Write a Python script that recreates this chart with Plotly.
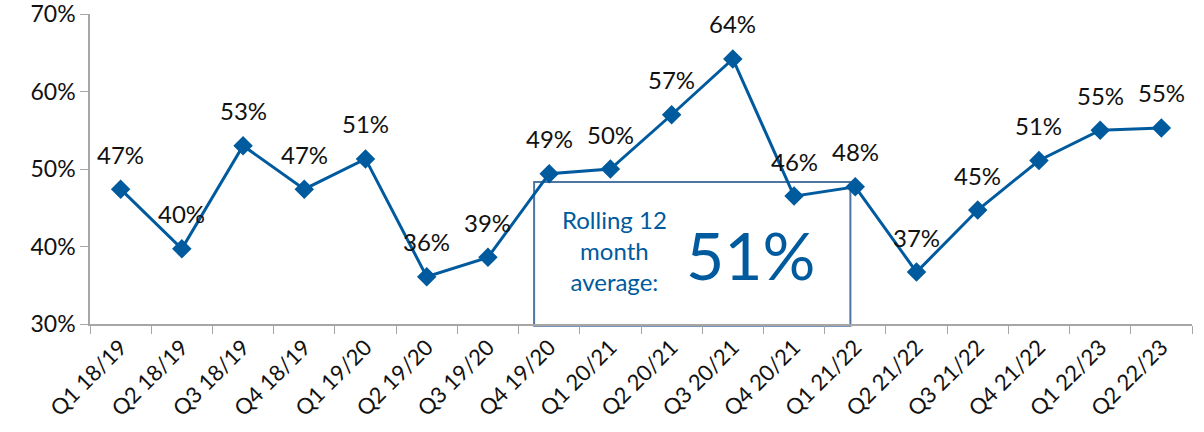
import plotly.graph_objects as go

categories = ["Q1 18/19", "Q2 18/19", "Q3 18/19", "Q4 18/19", "Q1 19/20", "Q2 19/20",
              "Q3 19/20", "Q4 19/20", "Q1 20/21", "Q2 20/21", "Q3 20/21", "Q4 20/21",
              "Q1 21/22", "Q2 21/22", "Q3 21/22", "Q4 21/22", "Q1 22/23", "Q2 22/23"]
values = [0.474, 0.397, 0.530, 0.474, 0.513, 0.361, 0.386, 0.494, 0.500, 0.570,
          0.642, 0.465, 0.477, 0.367, 0.447, 0.511, 0.550, 0.553]
y_ticks = [0.3, 0.4, 0.5, 0.6, 0.7]
rolling_label = "Rolling 12<br>month<br>average:"
rolling_value = "51%"

BLUE = "#005a9e"
FONT = "Lato"

fig = go.Figure()
fig.add_trace(go.Scatter(
    x=categories, y=values, mode="lines+markers",
    line=dict(color=BLUE, width=3),
    marker=dict(symbol="diamond", size=15, color=BLUE),
    cliponaxis=False,
    hoverinfo="skip",
))

for c, v in zip(categories, values):
    fig.add_annotation(x=c, y=v, text=f"{round(v*100):.0f}%", showarrow=False,
                       xanchor="center", yanchor="middle", yshift=35,
                       font=dict(family=FONT, size=24, color="#111111"))

fig.add_shape(type="rect", xref="paper", yref="paper",
              x0=0.403, x1=0.690, y0=-0.006, y1=0.458,
              line=dict(color="#4f75a3", width=2), fillcolor="white", layer="below")
fig.add_annotation(xref="paper", yref="paper", x=0.476, y=0.237, text=rolling_label,
                   showarrow=False, align="center", xanchor="center", yanchor="middle",
                   font=dict(family=FONT, size=24, color=BLUE))
fig.add_annotation(xref="paper", yref="paper", x=0.599, y=0.225, text=rolling_value,
                   showarrow=False, align="center", xanchor="center", yanchor="middle",
                   font=dict(family=FONT, size=66, color=BLUE))

fig.update_layout(
    width=1204, height=432,
    margin=dict(l=90, r=12, t=14, b=108),
    paper_bgcolor="white", plot_bgcolor="white",
    showlegend=False,
    font=dict(family=FONT, size=24, color="#111111"),
)
fig.update_xaxes(
    type="category", range=[-0.5, len(categories) - 0.5], automargin=False,
    showline=True, linecolor="#a6a6a6", linewidth=1.5,
    ticks="outside", tickson="boundaries", ticklen=8, tickcolor="#a6a6a6",
    tickangle=-45, showgrid=False, ticklabeloverflow="allow",
    tickfont=dict(family=FONT, size=22, color="#111111"),
)
fig.update_yaxes(
    range=[0.3, 0.7], tickvals=y_ticks, tickformat=".0%", automargin=False,
    showline=True, linecolor="#a6a6a6", linewidth=1.5,
    ticks="outside", ticklen=8, tickcolor="#a6a6a6",
    showgrid=False, zeroline=False, ticklabeloverflow="allow",
    tickfont=dict(family=FONT, size=23, color="#111111"),
)

fig.write_html("out.html", config={"displayModeBar": False},
               post_script="document.body.style.margin='0';document.body.style.padding='0';")
